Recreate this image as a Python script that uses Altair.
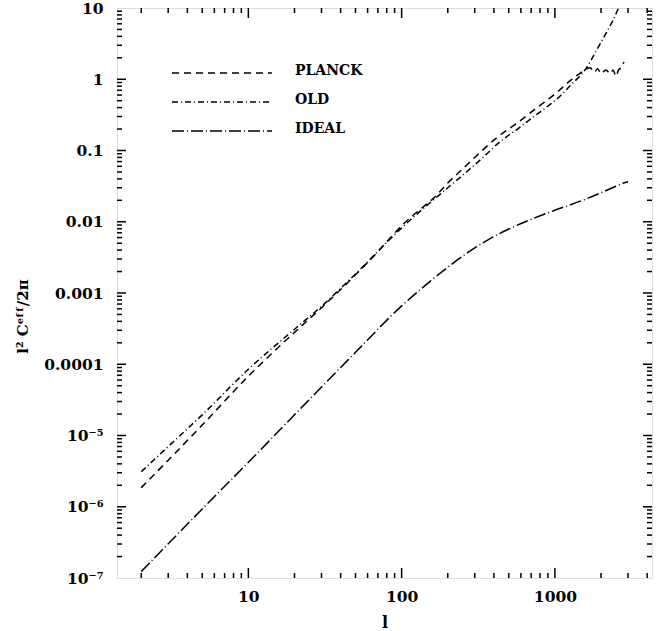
import altair as alt
import pandas as pd

# ---- data ----
planck_l = [2, 3, 5, 10, 20, 30, 50, 70, 100, 130, 160, 200, 265, 330, 424, 570, 700, 900,
            1000, 1270, 1450, 1590, 1700, 1800, 1900, 2000, 2150, 2300, 2400, 2500, 2600,
            2700, 2820]
planck_v = [1.85e-6, 4.5e-6, 1.4e-5, 6.8e-5, 2.8e-4, 6.2e-4, 1.8e-3, 3.8e-3, 8.8e-3, 0.0145,
            0.021, 0.035, 0.062, 0.097, 0.155, 0.245, 0.345, 0.52,
            0.62, 0.97, 1.2, 1.38, 1.45, 1.25, 1.4, 1.2, 1.35, 1.2, 1.35, 1.1, 1.35,
            1.45, 1.75]

old_l = [2, 3, 5, 10, 20, 30, 50, 100, 200, 265, 350, 424, 570, 700, 900, 1100, 1270, 1450,
         1590, 1800, 2000, 2200, 2400, 2600, 2700]
old_v = [3.1e-6, 7.0e-6, 1.95e-5, 8.5e-5, 3.1e-4, 6.5e-4, 1.85e-3, 8.2e-3, 0.03, 0.05,
         0.085, 0.125, 0.2, 0.28, 0.42, 0.6, 0.83, 1.1,
         1.4, 2.2, 3.3, 4.8, 6.8, 10.0, 12.0]

ideal_l = [2, 5, 10, 20, 50, 100, 150, 200, 300, 400, 500, 700, 1000, 1500, 2000, 2500,
           2800, 3000]
ideal_v = [1.23e-7, 9.3e-7, 4.2e-6, 1.95e-5, 1.47e-4, 6.6e-4, 1.4e-3, 2.3e-3, 4.3e-3, 6.2e-3,
           7.9e-3, 1.08e-2, 0.0145, 0.0198, 0.0255, 0.0315, 0.035, 0.0365]

series_names = ["PLANCK", "OLD", "IDEAL"]
series_dash = [[7, 5], [6, 3, 1, 3], [12, 3, 1, 3]]

x_major = [10, 100, 1000]
x_major_labels = ["10", "100", "1000"]
y_major = [10, 1, 0.1, 0.01, 0.001, 0.0001, 1e-5, 1e-6, 1e-7]
y_major_labels = ["10", "1", "0.1", "0.01", "0.001", "0.0001", "10⁻⁵", "10⁻⁶", "10⁻⁷"]

x_domain = [1.39, 4300]
y_domain = [1e-7, 10]

W, H = 535, 570
FONT = "DejaVu Serif"

x_minor = [m * 10 ** k for k in range(0, 4) for m in range(2, 10)
           if x_domain[0] <= m * 10 ** k <= x_domain[1]]
y_minor = [m * 10.0 ** k for k in range(-7, 1) for m in range(2, 10)]

# ---- encodings ----
y_label_expr = "[" + ",".join("'%s'" % s for s in y_major_labels) + "][1 - round(log(datum.value)/LN10)]"
x_label_expr = "[" + ",".join("'%s'" % s for s in x_major_labels) + "][round(log(datum.value)/LN10) - 1]"

xscale = alt.Scale(type="log", domain=x_domain, nice=False)
yscale = alt.Scale(type="log", domain=y_domain, nice=False)

x_axis = alt.Axis(values=x_major, labelExpr=x_label_expr,
                  ticks=False, domain=False, grid=False, labelFont=FONT, labelFontWeight="bold",
                  labelFontSize=15.5, labelPadding=11, labelColor="black", title="l",
                  titleFont=FONT, titleFontWeight="bold", titleFontSize=16, titleColor="black",
                  titleY=44, titleBaseline="middle", labelFlush=False)
y_axis = alt.Axis(values=y_major, labelExpr=y_label_expr, ticks=False, domain=False, grid=False,
                  labelFont=FONT, labelFontWeight="bold", labelFontSize=15.5, labelPadding=14,
                  labelColor="black", title="l² Cᵉᶠᶠ/2π", titleFont=FONT, titleFontWeight="bold",
                  titleFontSize=15, titleColor="black", titleX=-95, titleY=308,
                  titleBaseline="middle", titleAngle=270, labelFlush=False)


def xenc(field="l"):
    return alt.X(f"{field}:Q", scale=xscale, axis=x_axis)


def yenc(field="v"):
    return alt.Y(f"{field}:Q", scale=yscale, axis=y_axis)


layers = []
for name, ls, vs, dash in zip(series_names, [planck_l, old_l, ideal_l],
                              [planck_v, old_v, ideal_v], series_dash):
    df = pd.DataFrame({"l": ls, "v": vs})
    layers.append(
        alt.Chart(df).mark_line(color="black", strokeWidth=1.5, strokeDash=dash, clip=True,
                                interpolate="monotone")
        .encode(x=xenc(), y=yenc())
    )

# ---- inward ticks on all four sides (tick marks at the scale's tick values) ----
xt_major = pd.DataFrame({"l": x_major})
xt_minor = pd.DataFrame({"l": x_minor})
yt_major = pd.DataFrame({"v": y_major[1:-1]})
yt_minor = pd.DataFrame({"v": y_minor})

for df, ln in [(xt_major, 10), (xt_minor, 5)]:
    for pos in (H - ln / 2, ln / 2):
        layers.append(alt.Chart(df).mark_tick(color="black", orient="vertical", size=ln,
                                              thickness=1.5, opacity=1)
                      .encode(x=xenc(), y=alt.value(pos)))
for df, ln in [(yt_major, 9), (yt_minor, 5)]:
    for pos in (ln / 2, W - ln / 2):
        layers.append(alt.Chart(df).mark_tick(color="black", orient="horizontal", size=ln,
                                              thickness=1.5, opacity=1)
                      .encode(y=yenc(), x=alt.value(pos)))

# ---- legend ----
leg_y = [65, 94, 123]
for name, dash, yy in zip(series_names, series_dash, leg_y):
    ldf = pd.DataFrame({"name": [name]})
    layers.append(alt.Chart(ldf).mark_rule(color="black", strokeWidth=1.6, strokeDash=dash)
                  .encode(x=alt.value(55), x2=alt.value(155), y=alt.value(yy)))
    layers.append(alt.Chart(ldf).mark_text(align="left", baseline="middle", font=FONT,
                                           fontWeight="bold", fontSize=14, color="black")
                  .encode(x=alt.value(178), y=alt.value(yy - 2), text="name:N"))

chart = alt.layer(*layers).properties(
    width=W, height=H,
    autosize=alt.AutoSizeParams(type="none"),
    padding={"left": 117, "top": 8, "right": 20, "bottom": 53},
).configure_view(stroke="black", strokeWidth=2).configure(background="white")

chart.save("out.html", embed_options={"renderer": "svg", "actions": False})
